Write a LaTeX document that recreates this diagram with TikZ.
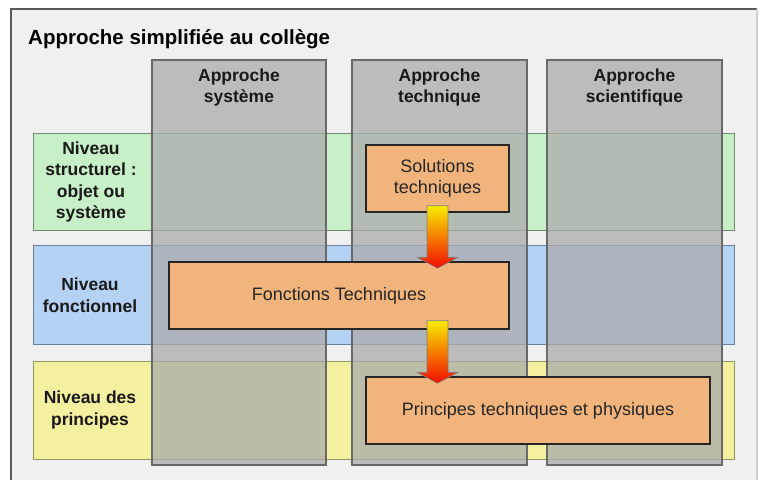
\documentclass[tikz,border=0pt]{standalone}
\usepackage{fontspec}
\setmainfont{Liberation Sans}
\usetikzlibrary{positioning,calc}
\definecolor{fond}{RGB}{240,240,240}
\definecolor{vert}{RGB}{200,240,200}
\definecolor{vertb}{RGB}{110,140,110}
\definecolor{bleu}{RGB}{180,210,244}
\definecolor{bleub}{RGB}{110,130,160}
\definecolor{jaune}{RGB}{243,240,160}
\definecolor{jauneb}{RGB}{150,150,100}
\definecolor{gris}{RGB}{171,171,171}
\definecolor{grisb}{RGB}{105,105,105}
\definecolor{ocre}{RGB}{241,180,124}
\definecolor{fjaune}{RGB}{248,236,0}
\definecolor{forange}{RGB}{245,130,0}
\definecolor{frouge}{RGB}{240,12,0}
\tikzstyle{band}=[draw, line width=1pt, minimum width=701pt]
\tikzstyle{col}=[draw=grisb, fill=gris, fill opacity=0.75, line width=1.2pt, minimum width=175pt, minimum height=405pt]
\tikzstyle{block}=[draw=black!85, fill=ocre, line width=1.5pt, minimum height=67pt, align=center, text=black!85, font=\fontsize{18}{21}\selectfont]
\tikzstyle{lab}=[align=center, inner sep=0pt, text=black!90, font=\bfseries\fontsize{17.5}{21.5}\selectfont]
\tikzstyle{fleche}=[draw=black!50, line width=0.6pt, top color=fjaune, middle color=forange, bottom color=frouge]
\newcommand{\grossefleche}[2]{%
  \path[fleche] ($(#1)+(-10.5,0)$) -- ($(#2)+(-10.5,-11)$) -- ($(#2)+(-20.5,-11)$) -- (#2)
    -- ($(#2)+(20.5,-11)$) -- ($(#2)+(10.5,-11)$) -- ($(#1)+(10.5,0)$) -- cycle;}

\begin{document}
\begin{tikzpicture}[x=1pt,y=-1pt]
    \useasboundingbox (0,0) rectangle (763,480);
    % cadre
    \fill[fond] (11,9) rectangle (757,480);
    \draw[black!65, line width=1.2pt] (11,480) -- (11,9) -- (757,9);
    \draw[black!18, line width=1.5pt] (757,9) -- (757,480);
    \node[anchor=base west, inner sep=0pt, font=\bfseries\fontsize{20.5}{24}\selectfont] (titre) at (28,44) {Approche simplifiée au collège};
    % niveaux
    \node[band, fill=vert, draw=vertb, minimum height=97pt] (struct) at (383.5,181.5) {};
    \node[band, fill=bleu, draw=bleub, minimum height=99pt] (fonct) at (383.5,294.5) {};
    \node[band, fill=jaune, draw=jauneb, minimum height=98pt] (princ) at (383.5,410) {};
    % approches
    \node[col, minimum width=174pt] (sys) at (239,262.5) {};
    \node[col] (tech) at (439.5,262.5) {};
    \node[col] (sci) at (634.5,262.5) {};
    \node[lab, below=9pt of sys.north] (hsys) {Approche\\système};
    \node[lab, below=9pt of tech.north] (htech) {Approche\\technique};
    \node[lab, below=9pt of sci.north] (hsci) {Approche\\scientifique};
    \node[lab] (lstruct) at (91,182) {Niveau\\structurel :\\objet ou\\système};
    \node[lab] (lfonct) at (90,295) {Niveau\\fonctionnel};
    \node[lab] (lprinc) at (90,410) {Niveau des\\principes};
    % blocs
    \node[block, minimum width=143pt] (sol) at (437.5,178.5) {Solutions\\techniques};
    \node[block, minimum width=340pt] (fct) at (339,295.5) {Fonctions Techniques};
    \node[block, minimum width=344pt] (pri) at (538,410.5) {Principes techniques et physiques};
    % fleches
    \coordinate (f1a) at ($(sol.south)+(0,-7)$);
    \coordinate (f1b) at ($(f1a |- fct.north)+(0,7)$);
    \coordinate (f2a) at ($(f1a |- fct.south)+(0,-9)$);
    \coordinate (f2b) at ($(f1a |- pri.north)+(0,7)$);
    \grossefleche{f1a}{f1b}
    \grossefleche{f2a}{f2b}
\end{tikzpicture}
\end{document}
